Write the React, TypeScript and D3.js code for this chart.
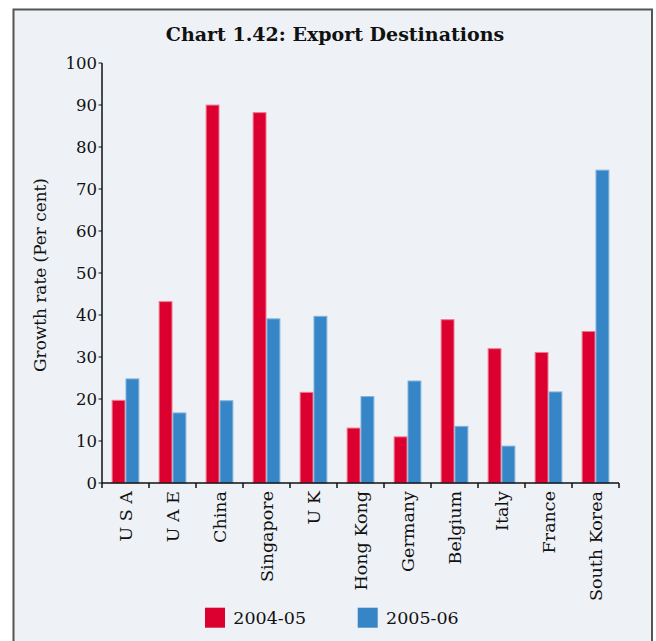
import React from "react";
import * as d3 from "d3";

const categories = ["U S A", "U A E", "China", "Singapore", "U K", "Hong Kong", "Germany", "Belgium", "Italy", "France", "South Korea"];
const series2004 = [19.8, 43.3, 90.1, 88.3, 21.7, 13.2, 11.1, 39.0, 32.1, 31.2, 36.2];
const series2005 = [24.9, 16.8, 19.7, 39.2, 39.8, 20.7, 24.4, 13.6, 8.9, 21.8, 74.6];
const seriesNames = ["2004-05", "2005-06"];
const yTicks = [0, 10, 20, 30, 40, 50, 60, 70, 80, 90, 100];
const colors = ["#dc0030", "#3585c7"];
const strokes = ["#ee7a90", "#7fb2dc"];

const W = 656, H = 641;
const left = 102, right = 619, top = 63, bottom = 483;
const font = "'DejaVu Serif', serif";

export default function App() {
  const x = d3.scaleBand<string>().domain(categories).range([left, right]).paddingInner(0.41).paddingOuter(0.205);
  const y = d3.scaleLinear().domain([0, 100]).range([bottom, top]);
  const sub = d3.scaleBand<number>().domain([0, 1]).range([0, x.bandwidth()]);
  const data = [series2004, series2005];
  const step = x.step();
  return (
    <svg width={W} height={H} style={{ position: "absolute", left: 0, top: 0 }}>
      <rect x={0} y={0} width={W} height={H} fill="#ffffff" />
      <rect x={13.5} y={9.5} width={638.5} height={H} fill="#eef2f6" stroke="#555" strokeWidth={2} />
      <text x={335} y={41} textAnchor="middle" fontFamily={font} fontWeight="bold" fontSize={19} fill="#111">Chart 1.42: Export Destinations</text>
      {data.map((vals, s) =>
        vals.map((v, i) => (
          <rect key={`${s}-${i}`} x={(x(categories[i]) as number) + (sub(s) as number) + 0.5} y={y(v) + 0.5} width={sub.bandwidth() - 1} height={y(0) - y(v) - 0.5} fill={colors[s]} stroke={strokes[s]} strokeWidth={1} />
        ))
      )}
      <line x1={left} y1={top} x2={left} y2={bottom} stroke="#111" strokeWidth={1.5} />
      <line x1={left} y1={bottom} x2={right} y2={bottom} stroke="#111" strokeWidth={1.5} />
      {yTicks.map((t) => (
        <g key={t}>
          <line x1={left - 3.5} x2={left} y1={y(t)} y2={y(t)} stroke="#111" strokeWidth={1} />
          <text x={left - 5} y={y(t) + 5.5} textAnchor="end" fontFamily={font} fontSize={16.5} fill="#111">{t}</text>
        </g>
      ))}
      {d3.range(categories.length + 1).map((i) => (
        <line key={i} x1={left + i * step} x2={left + i * step} y1={bottom} y2={bottom + 5} stroke="#111" strokeWidth={1.5} />
      ))}
      {categories.map((c) => {
        const cx = (x(c) as number) + x.bandwidth() / 2;
        return (
          <text key={c} transform={`translate(${cx + 6.5},${bottom + 8}) rotate(-90)`} textAnchor="end" fontFamily={font} fontSize={17.5} fill="#111">{c}</text>
        );
      })}
      <text transform={`translate(46,${275}) rotate(-90)`} textAnchor="middle" fontFamily={font} fontSize={16.9} fill="#111">Growth rate (Per cent)</text>
      {seriesNames.map((n, i) => (
        <g key={n} transform={`translate(${205 + i * 152.7},607.7)`}>
          <rect x={0} y={0} width={20} height={20} fill={colors[i]} />
          <text x={28.3} y={16.5} fontFamily={font} fontSize={17.5} fill="#111">{n}</text>
        </g>
      ))}
    </svg>
  );
}
